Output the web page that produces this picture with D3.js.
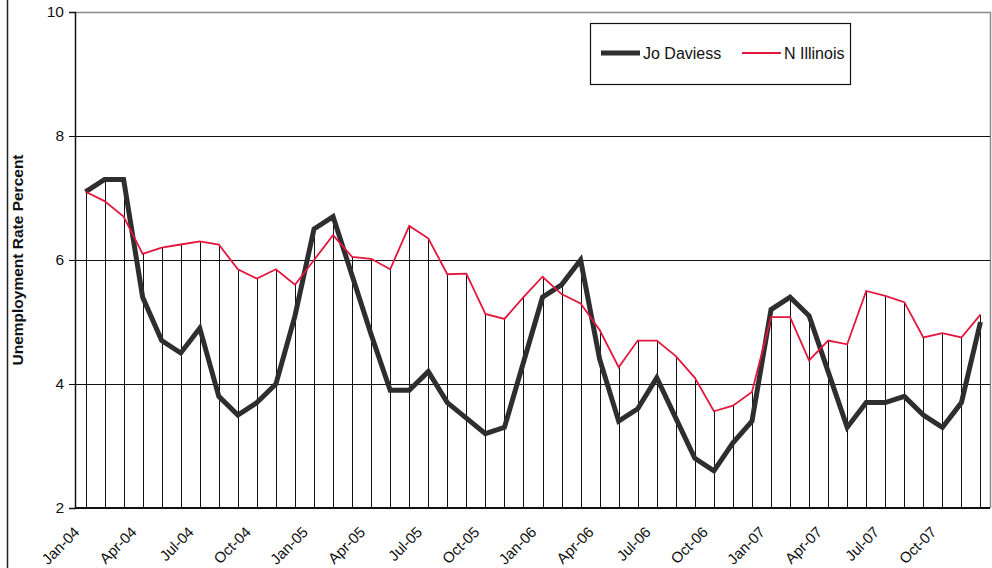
<!DOCTYPE html>
<html lang="en">
<head>
<meta charset="utf-8">
<title>Unemployment Rate: Jo Daviess vs N Illinois</title>
<script src="https://cdn.jsdelivr.net/npm/d3@7"></script>
<style>
  body { margin: 0; background: #fff; }
  text { font-family: Arial, "Liberation Sans", sans-serif; fill: #111; }
</style>
</head>
<body>
<script>
// categories (monthly, Jan-04 .. Dec-07)
var months = [
  "Jan-04","Feb-04","Mar-04","Apr-04","May-04","Jun-04","Jul-04","Aug-04","Sep-04","Oct-04","Nov-04","Dec-04",
  "Jan-05","Feb-05","Mar-05","Apr-05","May-05","Jun-05","Jul-05","Aug-05","Sep-05","Oct-05","Nov-05","Dec-05",
  "Jan-06","Feb-06","Mar-06","Apr-06","May-06","Jun-06","Jul-06","Aug-06","Sep-06","Oct-06","Nov-06","Dec-06",
  "Jan-07","Feb-07","Mar-07","Apr-07","May-07","Jun-07","Jul-07","Aug-07","Sep-07","Oct-07","Nov-07","Dec-07"
];

// series values (percent)
var joDaviess = [
  7.1, 7.3, 7.3, 5.4, 4.7, 4.5, 4.9, 3.8, 3.5, 3.7, 4.0, 5.1,
  6.5, 6.7, 5.75, 4.8, 3.9, 3.9, 4.2, 3.7, 3.45, 3.2, 3.3, 4.35,
  5.4, 5.6, 6.0, 4.4, 3.4, 3.6, 4.1, 3.45, 2.8, 2.6, 3.05, 3.4,
  5.2, 5.4, 5.1, 4.2, 3.3, 3.7, 3.7, 3.8, 3.5, 3.3, 3.7, 5.0
];
var nIllinois = [
  7.1, 6.95, 6.7, 6.1, 6.2, 6.25, 6.3, 6.25, 5.85, 5.7, 5.85, 5.6,
  6.0, 6.4, 6.05, 6.02, 5.85, 6.55, 6.35, 5.77, 5.78, 5.13, 5.05, 5.4,
  5.73, 5.45, 5.3, 4.87, 4.27, 4.7, 4.7, 4.45, 4.1, 3.56, 3.65, 3.87,
  5.08, 5.08, 4.38, 4.7, 4.64, 5.5, 5.42, 5.32, 4.75, 4.82, 4.75, 5.12
];

// axis labels
var xTickLabels = ["Jan-04","Apr-04","Jul-04","Oct-04","Jan-05","Apr-05","Jul-05","Oct-05",
                   "Jan-06","Apr-06","Jul-06","Oct-06","Jan-07","Apr-07","Jul-07","Oct-07"];
var yTicks = [2, 4, 6, 8, 10];

var w = 992, h = 568;
var pLeft = 75, pRight = 990, pTop = 12, pBottom = 508;

var svg = d3.select("body").append("svg")
  .attr("width", w)
  .attr("height", h);

var x = d3.scaleBand().domain(months).range([pLeft + 1, pRight]);
var cx = function(m) { return x(m) + x.bandwidth() / 2; };
var y = d3.scaleLinear().domain([2, 10]).range([pBottom, pTop]);

// page edge line on the left
svg.append("line")
  .attr("x1", 7.5).attr("x2", 7.5).attr("y1", 0).attr("y2", h)
  .attr("stroke", "#222").attr("stroke-width", 1.5);

// plot frame (top / right, grey)
svg.append("path")
  .attr("d", "M" + pLeft + "," + (pTop + 0.5) + "H" + (pRight + 0.5) + "V" + pBottom)
  .attr("fill", "none").attr("stroke", "#8a8a8a").attr("stroke-width", 1.5);

// horizontal gridlines
svg.selectAll("line.grid")
  .data(yTicks.filter(function(d) { return d > 2 && d < 10; }))
  .enter().append("line")
  .attr("class", "grid")
  .attr("x1", pLeft).attr("x2", pRight)
  .attr("y1", function(d) { return Math.round(y(d)) + 0.5; })
  .attr("y2", function(d) { return Math.round(y(d)) + 0.5; })
  .attr("stroke", "#111").attr("stroke-width", 1);

// drop lines from the higher series to the axis
svg.selectAll("line.drop")
  .data(months)
  .enter().append("line")
  .attr("class", "drop")
  .attr("x1", function(d) { return Math.round(cx(d)) + 0.5; })
  .attr("x2", function(d) { return Math.round(cx(d)) + 0.5; })
  .attr("y1", function(d, i) { return y(Math.max(joDaviess[i], nIllinois[i])); })
  .attr("y2", pBottom)
  .attr("stroke", "#111").attr("stroke-width", 1);

// y axis
var yAxis = svg.append("g")
  .attr("transform", "translate(" + pLeft + ",0)")
  .call(d3.axisLeft(y).tickValues(yTicks).tickSize(6).tickPadding(5).tickFormat(d3.format("d")));
yAxis.select(".domain").attr("stroke", "#111").attr("stroke-width", 1.5);
yAxis.selectAll(".tick line").attr("stroke", "#111");
yAxis.selectAll(".tick text").style("font-size", "15.5px").attr("fill", "#111");

// x axis
var xAxis = svg.append("g")
  .attr("transform", "translate(0," + pBottom + ")")
  .call(d3.axisBottom(x).tickValues(xTickLabels).tickSize(0));
xAxis.select(".domain").attr("d", "M" + pLeft + ",0H" + pRight)
  .attr("stroke", "#111").attr("stroke-width", 2);
xAxis.selectAll(".tick text")
  .style("font-size", "15px")
  .attr("fill", "#111")
  .attr("text-anchor", "end")
  .attr("y", 0).attr("dy", 0)
  .attr("transform", "translate(-5,25) rotate(-45)");

// y axis title
svg.append("text")
  .attr("transform", "translate(23," + ((pTop + pBottom) / 2) + ") rotate(-90)")
  .attr("text-anchor", "middle")
  .style("font-size", "15.5px")
  .style("font-weight", "bold")
  .text("Unemployment Rate Percent");

// lines
var line = function(vals) {
  return d3.line()
    .x(function(d, i) { return cx(months[i]); })
    .y(function(d) { return y(d); })(vals);
};

svg.append("path")
  .attr("d", line(joDaviess))
  .attr("fill", "none")
  .attr("stroke", "#2e2e2e")
  .attr("stroke-width", 5)
  .attr("stroke-linejoin", "miter");

svg.append("path")
  .attr("d", line(nIllinois))
  .attr("fill", "none")
  .attr("stroke", "#e3173e")
  .attr("stroke-width", 1.8);

// legend
var legend = svg.append("g");
legend.append("rect")
  .attr("x", 590.5).attr("y", 23.5).attr("width", 260).attr("height", 61)
  .attr("fill", "#fff").attr("stroke", "#111").attr("stroke-width", 1.2);
legend.append("line")
  .attr("x1", 601).attr("x2", 640).attr("y1", 53).attr("y2", 53)
  .attr("stroke", "#2e2e2e").attr("stroke-width", 5);
legend.append("text")
  .attr("x", 643).attr("y", 59)
  .style("font-size", "16px")
  .text("Jo Daviess");
legend.append("line")
  .attr("x1", 742).attr("x2", 781).attr("y1", 53).attr("y2", 53)
  .attr("stroke", "#e3173e").attr("stroke-width", 1.8);
legend.append("text")
  .attr("x", 784).attr("y", 59)
  .style("font-size", "16px")
  .text("N Illinois");
</script>
</body>
</html>
